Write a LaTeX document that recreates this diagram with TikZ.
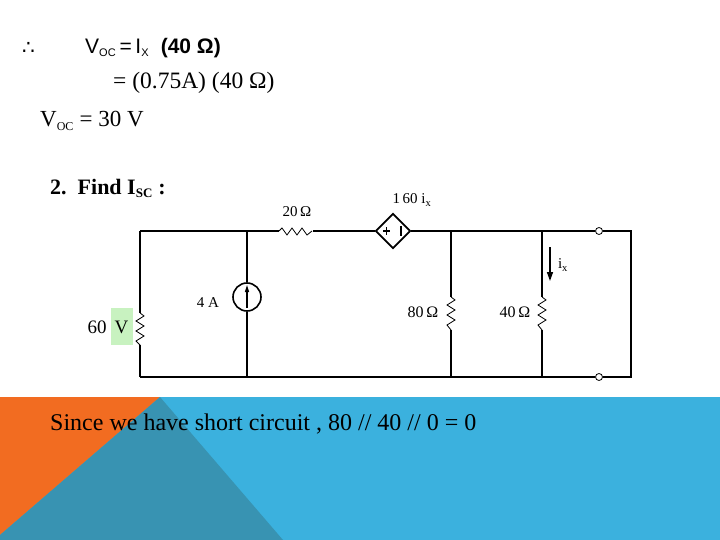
\documentclass[tikz,border=0pt]{standalone}
\usepackage{fontspec}
\setmainfont{Liberation Serif}
\newfontfamily\arialf{Liberation Sans}
\newfontfamily\dejaf{DejaVu Sans}
\usetikzlibrary{arrows.meta,shapes.geometric}
\definecolor{orng}{HTML}{F26C21}
\definecolor{lblue}{HTML}{3BB1DE}
\definecolor{dteal}{HTML}{3893B2}
\definecolor{lgreen}{HTML}{C8F2C0}
\begin{document}
\begin{tikzpicture}[x=1pt,y=-1pt,
  wire/.style={line width=1.4pt},
  lbl/.style={font=\fontsize{15}{15}\selectfont,inner sep=0pt},
  term/.style={circle,draw,line width=0.8pt,fill=white,minimum size=7pt,inner sep=0pt}]
\useasboundingbox (0,0) rectangle (720,540);
\fill[white] (0,0) rectangle (720,540);
% background band
\fill[lblue] (0,397) rectangle (720,540);
\fill[orng] (0,397) -- (160,397) -- (0,535) -- cycle;
\fill[dteal] (160,397) -- (283,540) -- (0,540) -- (0,535) -- cycle;
% top text
\node[anchor=west,inner sep=0pt,font=\dejaf\fontsize{20}{20}\selectfont] (th) at (22,48) {∴};
\node[anchor=west,inner sep=0pt,font=\arialf\fontsize{21}{21}\selectfont] (l1) at (85,48) {V\textsubscript{\fontsize{11}{11}\selectfont OC}\,=\,I\textsubscript{\fontsize{11}{11}\selectfont X}\ \ \textbf{(40 Ω)}};
\node[anchor=west,inner sep=0pt,font=\fontsize{23.5}{23.5}\selectfont] (l2) at (113,83) {= (0.75A) (40 Ω)};
\node[anchor=west,inner sep=0pt,font=\fontsize{23}{23}\selectfont] (l3) at (40,121) {V\textsubscript{\fontsize{12}{12}\selectfont OC} = 30 V};
\node[anchor=west,inner sep=0pt,font=\bfseries\fontsize{22}{22}\selectfont] (l4) at (50,188) {2.\ \ Find I\textsubscript{\fontsize{13}{13}\selectfont SC} :};
% circuit coordinates
\coordinate (TL) at (140,231); \coordinate (BL) at (140,377);
\coordinate (TC) at (247,231); \coordinate (BC) at (247,377);
\coordinate (T8) at (451,231); \coordinate (B8) at (451,377);
\coordinate (T4) at (542,231); \coordinate (B4) at (542,377);
\node[term] (ta) at (599,231) {};
\node[term] (tb) at (599,377) {};
\coordinate (TR) at (631,231); \coordinate (BR) at (631,377);
\node[diamond,draw,line width=1.8pt,minimum width=35pt,minimum height=35pt,inner sep=0pt,fill=white] (dep) at (393,231) {};
\node[circle,draw,line width=1.6pt,minimum size=28pt,inner sep=0pt] (cs) at (247,297) {};
% wires
\draw[wire] (TL) -- (TC) -- (279,231);
\draw[line width=0.8pt] (279,231) -- (282,228) -- (287,235) -- (292,228) -- (297,235) -- (302,228) -- (307,235) -- (312,231);
\draw[wire] (313,231) -- (dep.west);
\draw[wire] (dep.east) -- (T8) -- (T4) -- (ta);
\draw[wire] (ta) -- (TR) -- (BR) -- (tb);
\draw[wire] (tb) -- (B4) -- (B8) -- (BC) -- (BL);
\draw[wire] (TC) -- (cs.north); \draw[wire] (cs.south) -- (BC);
\draw[-{Triangle[length=7pt,width=4pt]},line width=1.2pt] (247,308) -- (247,285);
% dependent source signs
\draw[line width=1.8pt] (383,231) -- (390,231) (386.5,227.5) -- (386.5,234.5);
\draw[line width=2pt] (401,226) -- (401,236);
% vertical resistors
\fill[lgreen] (111,308) rectangle (133,345);
\newcommand\vres[3]{%
 \draw[wire] (#1,231) -- (#1,#2);
 \draw[line width=0.8pt] (#1,#2) -- (#1+4,#2+3) -- (#1-4,#2+8) -- (#1+4,#2+13) -- (#1-4,#2+18) -- (#1+4,#2+23) -- (#1-4,#2+28) -- (#1,#3);
 \draw[wire] (#1,#3) -- (#1,377);}
\vres{140}{313}{345}
\vres{451}{297}{330}
\vres{542}{297}{330}
% ix arrow
\draw[-{Triangle[length=9pt,width=6pt]},line width=1.4pt] (550,247) -- (550,281);
% labels
\node[lbl] (r20) at (297,212) {20\,Ω};
\node[lbl] (dl) at (412,200) {1\,60 i\textsubscript{x}};
\node[lbl] (ixl) at (563,265) {i\textsubscript{x}};
\node[lbl] (a4) at (208,303) {4 A};
\node[lbl,font=\fontsize{16}{16}\selectfont] (r80) at (423,312) {80\,Ω};
\node[lbl,font=\fontsize{16}{16}\selectfont] (r40) at (515,312) {40\,Ω};
\node[lbl,font=\fontsize{19}{19}\selectfont] (v60) at (108,327) {60 \,V};
% bottom text
\node[anchor=west,inner sep=0pt,font=\fontsize{24}{24}\selectfont] (bt) at (50,424) {Since we have short circuit , 80 // 40 // 0 = 0};
\end{tikzpicture}
\end{document}
